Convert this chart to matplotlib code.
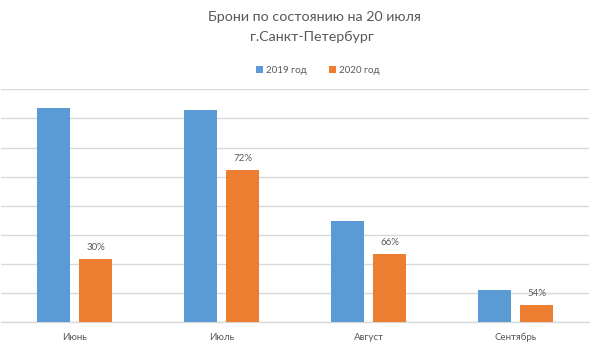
import matplotlib
matplotlib.use("Agg")
import matplotlib.pyplot as plt
import numpy as np

categories = ["Июнь", "Июль", "Август", "Сентябрь"]
values_2019 = [7.37, 7.29, 3.49, 1.10]
values_2020 = [2.18, 5.23, 2.33, 0.58]
labels_2020 = ["30%", "72%", "66%", "54%"]
series_names = ["2019 год", "2020 год"]

plt.rcParams['font.family'] = ['Lato', 'DejaVu Sans']
text_color = "#595959"
blue = "#5B9BD5"
orange = "#ED7D31"

fig = plt.figure(figsize=(6, 3.54), dpi=100)
ax = fig.add_axes([0.002, 0.0904, 0.98, 0.657])

x = np.arange(len(categories))
w = 0.224
off = 0.142
ax.bar(x - off, values_2019, width=w, color=blue, label=series_names[0], zorder=3)
ax.bar(x + off, values_2020, width=w, color=orange, label=series_names[1], zorder=3)

for xi, v, lab in zip(x, values_2020, labels_2020):
    ax.annotate(lab, (xi + off, v), xytext=(0, 5), textcoords="offset points",
                ha="center", va="bottom", fontsize=7, color=text_color)

ax.set_xlim(-0.5, 3.5)
ax.set_ylim(0, 8)
ax.set_yticks(np.arange(0, 9, 1))
ax.yaxis.grid(True, color="#d9d9d9", linewidth=1, zorder=0)
ax.tick_params(axis="y", left=False, labelleft=False)
ax.tick_params(axis="x", length=0, pad=8, labelsize=7, colors=text_color)
ax.set_xticks(x)
ax.set_xticklabels(categories)
for s in ["top", "right", "left"]:
    ax.spines[s].set_visible(False)
ax.spines["bottom"].set_color("#d9d9d9")
ax.spines["bottom"].set_linewidth(1)

fig.text(0.524, 0.953, "Брони по состоянию на 20 июля", ha="center", va="center",
         fontsize=10.3, color=text_color)
fig.text(0.52, 0.895, "г.Санкт-Петербург", ha="center", va="center",
         fontsize=10.3, color=text_color)

fig.legend(loc="center", bbox_to_anchor=(0.53, 0.80), ncol=2, frameon=False,
           fontsize=7, handlelength=0.7, handleheight=0.7, handletextpad=0.3,
           columnspacing=2.3, labelcolor=text_color)

fig.savefig("out.png", dpi=100, facecolor="white")
